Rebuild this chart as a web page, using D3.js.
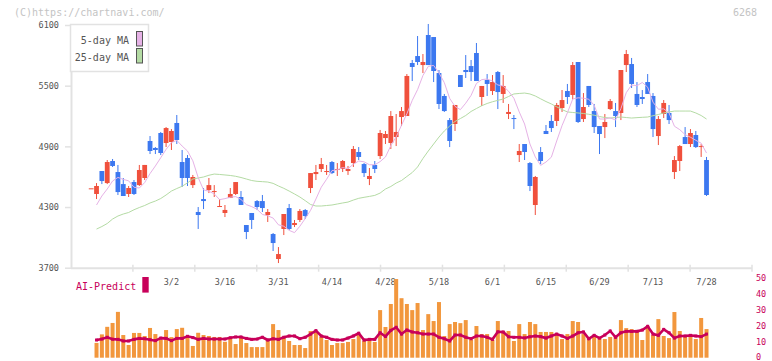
<!DOCTYPE html>
<html><head><meta charset="utf-8">
<script src="https://cdn.jsdelivr.net/npm/d3@7"></script>
<style>body{margin:0;background:#fff}svg{display:block}text{font-family:"DejaVu Sans Mono",monospace}</style>
</head><body><svg id="c" width="772" height="361"></svg>
<script>
// candle data; first candle (index -1) is the leading doji
const opens=[4485,4429,4656,4537,4755,4646,4527,4429,4547,4517,4587,4953,4884,5032,4933,4943,5131,4745,4785,4517,4251,4379,4468,4448,4300,4241,4389,4429,4399,4122,4241,4359,4359,4221,4033,3786,4083,4290,4122,4172,4270,4488,4626,4676,4646,4745,4666,4676,4656,4735,4844,4725,4577,4716,4804,4982,4933,4992,5190,5200,5724,5793,5704,6001,5981,5625,5398,5160,5121,5605,5655,5694,5823,5388,5556,5447,5635,5418,5220,5180,4814,4923,4735,4320,4844,5052,5151,5151,5279,5447,5408,5734,5170,5497,5249,5101,5091,5269,5249,5230,5704,5714,5418,5388,5536,5398,5002,5220,5230,4646,4755,4992,4923,5012,4893,4765];
const highs=[4485,4537,4656,4765,4775,4716,4587,4508,4567,4716,4716,5002,4893,5042,5091,5071,5210,4864,4814,4617,4300,4488,4587,4517,4379,4320,4488,4547,4458,4122,4241,4369,4419,4280,4043,3904,4231,4330,4172,4280,4280,4636,4716,4785,4716,4755,4735,4765,4706,4903,4893,4735,4686,4755,5062,5052,5249,5220,5289,5615,5754,5991,5813,6110,5981,5655,5418,5180,5309,5605,5803,5754,5922,5497,5615,5605,5645,5605,5319,5210,4923,4923,4745,4607,4893,5111,5210,5329,5457,5517,5734,5734,5427,5497,5319,5101,5220,5368,5329,5655,5853,5774,5536,5457,5615,5427,5200,5358,5309,4804,4913,5091,5071,5052,4923,4795];
const lows=[4485,4379,4527,4527,4696,4419,4409,4399,4419,4508,4567,4824,4824,4814,4893,4864,4923,4498,4508,4488,4083,4280,4438,4399,4300,4201,4389,4419,4320,3983,4083,4270,4251,4152,3865,3746,4023,4073,4102,4152,4181,4438,4567,4646,4617,4626,4607,4646,4617,4696,4765,4597,4517,4636,4775,4923,4874,4903,5101,5200,5546,5704,5625,5704,5536,5269,5240,4893,5052,5487,5576,5546,5546,5299,5398,5408,5269,5329,5170,5071,4745,4765,4458,4221,4725,5022,5042,5101,5240,5319,5368,5131,5141,5289,5032,4824,4982,5259,5091,5160,5635,5477,5289,5319,5418,4992,4913,5180,5121,4577,4656,4923,4893,4884,4795,4409];
const closes=[4485,4508,4557,4745,4706,4448,4409,4488,4429,4666,4716,4854,4864,4834,5081,5052,4963,4587,4587,4597,4221,4359,4517,4458,4310,4271,4429,4547,4320,4053,4172,4300,4290,4251,3944,3835,4231,4083,4142,4261,4211,4636,4646,4725,4656,4636,4676,4755,4676,4874,4795,4636,4607,4676,5032,5022,5200,5042,5249,5596,5685,5734,5734,5704,5645,5319,5249,4953,5309,5487,5635,5635,5546,5497,5517,5536,5437,5497,5240,5170,4854,4844,4508,4597,4755,5022,5081,5309,5358,5388,5704,5141,5289,5309,5091,5022,5141,5348,5200,5655,5813,5517,5309,5368,5418,5071,5170,5329,5160,4765,4903,4923,5032,4893,4903,4419];
const candleStart=-1;
// series from index 0
const ma5=[4320,4409,4478,4557,4593,4573,4559,4496,4488,4542,4631,4706,4787,4870,4937,4959,4903,4854,4757,4591,4470,4456,4430,4373,4383,4397,4403,4375,4324,4304,4278,4227,4213,4191,4124,4110,4069,4047,4110,4186,4267,4379,4496,4575,4660,4668,4690,4680,4723,4755,4747,4718,4718,4749,4795,4907,4994,5109,5222,5354,5461,5600,5691,5700,5627,5530,5374,5295,5263,5327,5404,5522,5560,5566,5546,5507,5497,5445,5376,5240,5121,4923,4795,4712,4745,4793,4953,5105,5232,5368,5380,5376,5366,5307,5170,5170,5182,5160,5273,5431,5507,5499,5532,5485,5337,5267,5271,5230,5099,5065,5016,4990,4960,4931,4834];
const ma25=[4082,4107,4137,4181,4211,4231,4246,4273,4295,4315,4340,4359,4384,4419,4458,4483,4505,4539,4577,4587,4597,4614,4626,4622,4617,4612,4604,4592,4577,4562,4554,4551,4547,4534,4508,4485,4458,4429,4399,4363,4325,4310,4310,4315,4320,4330,4340,4349,4369,4386,4396,4405,4415,4438,4478,4503,4537,4562,4602,4641,4696,4780,4854,4923,4992,5052,5101,5146,5175,5205,5245,5274,5302,5324,5341,5355,5368,5393,5418,5423,5427,5418,5398,5370,5343,5319,5291,5264,5240,5235,5230,5225,5217,5208,5195,5185,5180,5185,5190,5185,5180,5184,5187,5190,5203,5215,5230,5240,5249,5249,5249,5249,5230,5205,5170];
const volume=[9.2,14.5,19.2,21.6,28.5,14.1,7.9,15.4,15.4,13.5,18.5,14.7,11,17.2,12.8,17.8,18.6,13.5,7.3,15.5,14.1,13.5,12.9,12.9,9.9,12.9,8.5,12.9,9.1,6.6,6.6,6.6,11,20.9,17.2,12.7,10.4,7.9,7.9,6,16.6,16.6,12.9,11,7.9,9.1,9.1,9.8,11.6,14.1,10.4,11.6,9.8,29.6,19.1,33.4,48.9,37,33.4,29.6,34,17.2,27.1,22.8,34.6,13.5,20.9,22.2,21.5,23.4,11,19.7,14.7,14.7,11,22.8,16.6,16.6,10.4,20.9,14.7,22.2,20.9,16,16,16,14.1,11.6,14.7,22.8,22.2,14.7,12.9,13.5,12.9,11.6,12.9,14.1,23.4,18.4,17.8,16.6,11,19.7,14.1,24,13.5,12.2,28.4,16.6,13.5,13.5,11.6,24.7,17.8];
const aiPredict=[11,11.6,12.7,11.5,11.4,10.4,10.4,11.4,12,11.8,11.2,10.6,12.2,12,10.6,12,12,13.3,12.5,11.4,12,11.6,11.6,11.6,11.6,12.4,12.9,12.9,12,11.4,11.6,12.7,11,11.8,11.4,12.7,13.5,13.5,11.8,12.7,14.7,16.8,13.5,12.7,11.4,11,11,12.2,13.5,15.2,11,11.4,11.4,15.5,13.2,17,18.9,14.7,17.2,16,15.5,14.7,14.7,14.7,12.7,11.8,10.4,14.1,14.1,12.7,11.8,13.5,13.5,12.7,11.4,16.1,16,13,12.7,12.7,12.3,13,13.5,13.1,12.2,13.5,14.7,13.5,12,13.5,15.5,16,11.8,13.9,12.2,14.1,16.6,12.7,15.5,16.4,16.4,16.4,17.2,19.5,14.7,13.9,17.6,15.5,12.2,13.5,13.5,13.9,13.5,13.1,14.7];
const dateLabels=["3/2","3/16","3/31","4/14","4/28","5/18","6/1","6/15","6/29","7/13","7/28"];
const dateLabelIdx=[14,24,34,44,54,64,74,84,94,104,114];
const priceTicks=[6100,5500,4900,4300,3700];
const volTicks=[50,40,30,20,10,0];
const legendItems=["5-day MA","25-day MA"];

const svg=d3.select("#c");
const upC="#f0503c", dnC="#3c78f0", maPink="#e6b2e6", maGreen="#b4dba4", ai="#c8005a", volC="#f2973d", axC="#e2e2e2", txt="#555";
const x=d3.scaleLinear().domain([-4.77,122.5]).range([71,752]);
const y=d3.scaleLinear().domain([3700,6100]).range([267.7,25]);
const yv=d3.scaleLinear().domain([0,50]).range([357.7,277.3]);
const xt=d3.scaleLinear().domain([0,11]).range([71,752]);

// watermark
svg.append("text").attr("x",14).attr("y",16).attr("font-size",10).attr("fill","#c4c4c4").text("(C)https://chartnavi.com/");
svg.append("text").attr("x",757).attr("y",16).attr("text-anchor","end").attr("font-size",10).attr("fill","#c4c4c4").text("6268");

// y axis
const ya=svg.append("g").attr("transform","translate(71,0)").call(d3.axisLeft(y).tickValues(priceTicks).tickSizeInner(6).tickSizeOuter(0).tickPadding(6).tickFormat(d3.format("d")));
ya.select(".domain").attr("stroke",axC).attr("stroke-width",2);
ya.selectAll(".tick line").attr("stroke",axC).attr("stroke-width",1.5);
ya.selectAll(".tick text").attr("font-family",'"DejaVu Sans Mono",monospace').attr("font-size",8.5).attr("fill",txt);

// x axis line + ticks
svg.append("line").attr("x1",xt(0)).attr("x2",xt(11)).attr("y1",y(3700)+0.5).attr("y2",y(3700)+0.5).attr("stroke",axC).attr("stroke-width",2);
svg.selectAll(".xt").data(d3.range(1,12)).join("line").attr("x1",d=>xt(d)).attr("x2",d=>xt(d)).attr("y1",y(3700)-3).attr("y2",y(3700)+4).attr("stroke",axC).attr("stroke-width",1.5);
svg.selectAll(".xl").data(dateLabels).join("text").attr("x",(d,i)=>x(dateLabelIdx[i])).attr("y",285).attr("text-anchor","middle").attr("font-size",8.5).attr("fill",txt).text(d=>d);

// candles
const candles=opens.map((o,i)=>({i:i+candleStart,o,h:highs[i],l:lows[i],c:closes[i]}));
const cg=svg.append("g");
cg.selectAll("line").data(candles).join("line").attr("x1",d=>x(d.i)).attr("x2",d=>x(d.i)).attr("y1",d=>y(d.h)).attr("y2",d=>y(d.l)).attr("stroke",d=>d.c>=d.o?upC:dnC).attr("stroke-width",1);
cg.selectAll("rect").data(candles).join("rect").attr("x",d=>x(d.i)-2.4).attr("width",4.8)
  .attr("y",d=>y(Math.max(d.o,d.c))).attr("height",d=>Math.max(1,y(Math.min(d.o,d.c))-y(Math.max(d.o,d.c)))).attr("fill",d=>d.c>=d.o?upC:dnC);

// moving averages
const ln=d3.line().x((d,i)=>x(i)).y(d=>y(d));
svg.append("path").attr("d",ln(ma25)).attr("fill","none").attr("stroke",maGreen).attr("stroke-width",1);
svg.append("path").attr("d",ln(ma5)).attr("fill","none").attr("stroke",maPink).attr("stroke-width",1);

// legend
svg.append("rect").attr("x",70.5).attr("y",24.5).attr("width",78).attr("height",47).attr("fill","#fff").attr("stroke",axC).attr("stroke-width",1.5);
svg.selectAll(".lg").data(legendItems).join("text").attr("x",129).attr("y",(d,i)=>44+i*17).attr("text-anchor","end").attr("font-size",10).attr("fill",txt).text(d=>d);
svg.selectAll(".ls").data([maPink,maGreen]).join("rect").attr("x",136.5).attr("y",(d,i)=>31.5+i*17).attr("width",6).attr("height",14.5).attr("fill",d=>d).attr("stroke","#555").attr("stroke-width",1);

// volume panel
svg.selectAll(".vb").data(volume).join("rect").attr("x",(d,i)=>x(i)-2).attr("width",4).attr("y",d=>yv(d)).attr("height",d=>yv(0)-yv(d)).attr("fill",volC);
const lv=d3.line().x((d,i)=>x(i)).y(d=>yv(d));
svg.append("path").attr("d",lv(aiPredict)).attr("fill","none").attr("stroke",ai).attr("stroke-width",2.6);
svg.selectAll(".am").data(aiPredict).join("rect").attr("x",(d,i)=>x(i)-1.5).attr("y",d=>yv(d)-1.5).attr("width",3).attr("height",3).attr("fill",ai);
svg.selectAll(".vt").data(volTicks).join("text").attr("x",756).attr("y",d=>Math.min(yv(d)+3.2,359.5)).attr("font-size",8.5).attr("fill",ai).text(d=>d);
svg.append("text").attr("x",76).attr("y",290).attr("font-size",10).attr("fill",ai).text("AI-Predict");
svg.append("rect").attr("x",142.3).attr("y",277).attr("width",6.4).attr("height",15.6).attr("fill",ai);
</script></body></html>
